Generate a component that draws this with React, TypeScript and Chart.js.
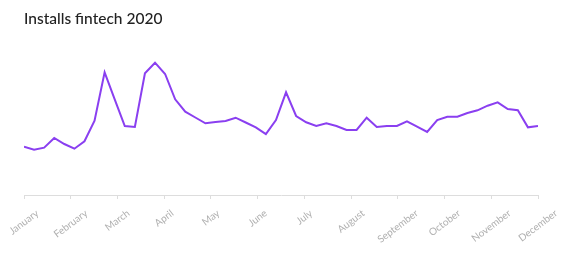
import React, { useEffect, useRef } from "react";
import { Chart, registerables } from "chart.js";

Chart.register(...registerables);

const titleText = "Installs fintech 2020";

const monthLabels = [
  "January", "February", "March", "April", "May", "June",
  "July", "August", "September", "October", "November", "December",
];

// weekly installs (arbitrary units)
const installs = [
  48.3, 45.3, 47.3, 57, 51, 46.3, 53.7, 74.3, 122.7, 95.7,
  69, 68, 121.7, 132.3, 121, 95.7, 83.3, 77.5, 71.7, 73,
  74, 77.3, 72.5, 67.7, 60.8, 75, 102.7, 79, 72.7, 69,
  71.7, 69, 65, 65, 77.3, 68, 69, 69, 73.7, 68.3,
  63, 75, 78.3, 78.3, 82, 84.7, 89.3, 92.7, 86, 84.7,
  67.7, 69,
];

const weekIndex = installs.map((_, i) => i);

export default function App() {
  const ref = useRef<HTMLCanvasElement | null>(null);

  useEffect(() => {
    document.body.style.margin = "0";
    const canvas = ref.current;
    if (!canvas) return;
    const lastWeek = weekIndex[weekIndex.length - 1];

    const labelPlugin = {
      id: "rotatedMonthLabels",
      afterDraw(chart: any) {
        const xs = chart.scales.x;
        const ctx = chart.ctx;
        const angle = (37 * Math.PI) / 180;
        const fontSize = 10;
        ctx.save();
        ctx.font = `${fontSize}px Lato`;
        ctx.fillStyle = "#b0b0b0";
        ctx.textAlign = "center";
        ctx.textBaseline = "middle";
        const top = xs.top + 13;
        xs.ticks.forEach((t: any, i: number) => {
          const label = monthLabels[i];
          if (!label) return;
          const px = xs.getPixelForValue(t.value);
          const w = ctx.measureText(label).width;
          const cy = top + (w / 2) * Math.sin(angle) + (fontSize / 2) * Math.cos(angle);
          ctx.save();
          ctx.translate(px, cy);
          ctx.rotate(-angle);
          ctx.fillText(label, 0, 0);
          ctx.restore();
        });
        ctx.restore();
      },
    };

    const chart = new Chart(canvas, {
      type: "line",
      data: {
        datasets: [
          {
            data: installs.map((v, i) => ({ x: weekIndex[i], y: v })),
            borderColor: "#8a3ff0",
            borderWidth: 2,
            pointRadius: 0,
            tension: 0,
            fill: false,
          },
        ],
      },
      options: {
        responsive: false,
        animation: false,
        layout: { padding: { left: 24, right: 26, top: 0, bottom: 65 } },
        plugins: {
          legend: { display: false },
          tooltip: { enabled: false },
          title: {
            display: true,
            text: titleText,
            align: "start",
            color: "#222222",
            font: { family: "Lato", size: 15.5, weight: 500 as any, lineHeight: 1.2 },
            padding: { top: 10, bottom: 11.4 },
          },
        },
        scales: {
          x: {
            type: "linear",
            min: 0,
            max: lastWeek,
            afterBuildTicks: (scale: any) => {
              scale.ticks = monthLabels.map((_, m) => ({
                value: (m * lastWeek) / (monthLabels.length - 1),
              }));
            },
            ticks: { display: false },
            grid: {
              drawOnChartArea: false,
              drawTicks: true,
              tickLength: 4,
              color: "#dddddd",
            },
            border: { display: true, color: "#dddddd", width: 1 },
          },
          y: {
            display: false,
            min: 0,
            max: 155,
          },
        },
      },
      plugins: [labelPlugin],
    });

    return () => chart.destroy();
  }, []);

  return (
    <div style={{ width: 564, height: 264 }}>
      <canvas ref={ref} width={564} height={264} style={{ display: "block" }} />
    </div>
  );
}
